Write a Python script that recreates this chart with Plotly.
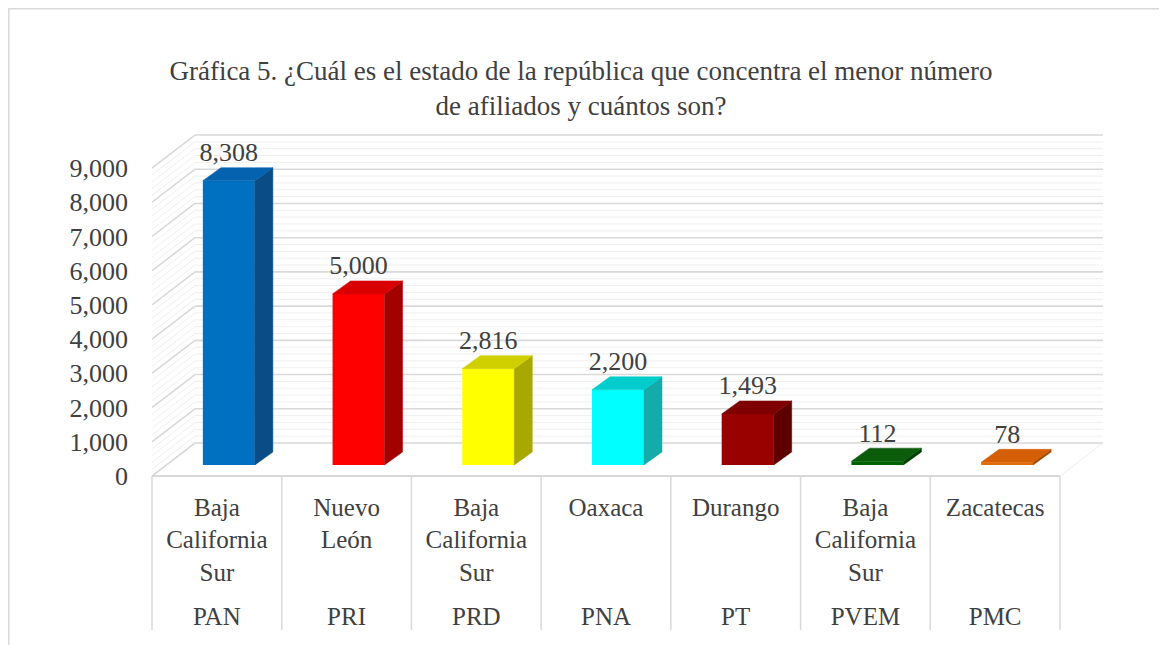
import plotly.graph_objects as go

# ---------------- data ----------------
parties = ["PAN", "PRI", "PRD", "PNA", "PT", "PVEM", "PMC"]
states = ["Baja<br>California<br>Sur", "Nuevo<br>León", "Baja<br>California<br>Sur",
          "Oaxaca", "Durango", "Baja<br>California<br>Sur", "Zacatecas"]
values = [8308, 5000, 2816, 2200, 1493, 112, 78]
y_ticks = [0, 1000, 2000, 3000, 4000, 5000, 6000, 7000, 8000, 9000]

front_colors = ["#0070C0", "#FF0000", "#FFFF00", "#00FFFF", "#990000", "#006100", "#E26B0A"]
top_colors = ["#0562AE", "#D80000", "#D0D000", "#00CCCC", "#7E0000", "#0B5C0B", "#D45F06"]
side_colors = ["#0A4C86", "#A30000", "#A8A800", "#15ABAB", "#5E0000", "#003F00", "#A34A05"]

W, H = 1167, 645
OFF = 8  # page body margin of the html page
FONT = "Liberation Serif"
TXT = "#404040"
GRID = "#D9D9D9"
MINOR = "#EFEFEF"

n = len(parties)
# geometry in page pixels of the reference
X_LEFT, X_RIGHT_CAT = 152, 1060
U = (X_RIGHT_CAT - X_LEFT) / n
Y0 = 476
K = 34.22 / 1000

def fx(p):  # page px -> paper fraction (x)
    return (p - OFF) / W

def fy(p):  # page px -> paper fraction (y)
    return (H - (p - OFF)) / H

XD = (152, 1130)
YD = (110, 500)
x_range = [-0.5, -0.5 + (XD[1] - XD[0]) / U]
y_range = [(Y0 - YD[1]) / K, (Y0 - YD[0]) / K]

WX, WY = 43 / U, 33 / K
BX, BY = 12 / U, 11 / K
DX, DY = 18 / U, 13 / K
BW = 52 / U
LBL = 13 / K

fig = go.Figure()

fig.add_trace(go.Bar(
    x=[i + BX for i in range(n)], y=values, base=BY, width=BW,
    marker=dict(color=front_colors, line=dict(width=0)),
    showlegend=False, hoverinfo="skip"))

for i, v in enumerate(values):
    xl, xr = i + BX - BW / 2, i + BX + BW / 2
    yb, yt = BY, BY + v
    fig.add_trace(go.Scatter(
        x=[xr, xr + DX, xr + DX, xr, xr], y=[yb, yb + DY, yt + DY, yt, yb],
        fill="toself", fillcolor=side_colors[i], mode="lines",
        line=dict(width=0.5, color=side_colors[i]), showlegend=False, hoverinfo="skip"))
    fig.add_trace(go.Scatter(
        x=[xl, xl + DX, xr + DX, xr, xl], y=[yt, yt + DY, yt + DY, yt, yt],
        fill="toself", fillcolor=top_colors[i], mode="lines",
        line=dict(width=0.5, color=top_colors[i]), showlegend=False, hoverinfo="skip"))

fig.add_trace(go.Scatter(
    x=[i + BX for i in range(n)],
    y=[v + BY + DY + LBL for v in values],
    text=[f"{v:,}" for v in values], mode="text", textposition="middle center",
    textfont=dict(family=FONT, size=26, color=TXT),
    showlegend=False, hoverinfo="skip", cliponaxis=False))

# carriers for the two category label rows
for ax in ("x2", "x3"):
    fig.add_trace(go.Scatter(
        x=list(range(n)), y=[0] * n, xaxis=ax, yaxis="y",
        mode="markers", marker=dict(size=1, opacity=0), showlegend=False, hoverinfo="skip"))

shapes = []
for v in range(0, 9001, 200):
    major = v % 1000 == 0
    col = GRID if major else MINOR
    w = 1.6 if major else 1
    shapes.append(dict(type="line", xref="x", yref="y", layer="below",
                       x0=-0.5 + WX, x1=n - 0.5 + WX, y0=v + WY, y1=v + WY,
                       line=dict(color=col, width=w)))
    shapes.append(dict(type="line", xref="x", yref="y", layer="below",
                       x0=-0.5, x1=-0.5 + WX, y0=v, y1=v + WY,
                       line=dict(color=col, width=w)))
shapes.append(dict(type="line", xref="x", yref="y", layer="below",
                   x0=n - 0.5, x1=n - 0.5 + WX, y0=0, y1=WY,
                   line=dict(color=MINOR, width=1)))
# category table dividers
for i in range(n + 1):
    shapes.append(dict(type="line", xref="paper", yref="paper",
                       x0=fx(X_LEFT + i * U), x1=fx(X_LEFT + i * U), y0=fy(Y0), y1=fy(630),
                       line=dict(color=GRID, width=1.5)))
# outer chart border
shapes.append(dict(type="rect", xref="paper", yref="paper", layer="below",
                   x0=0.8 / W, x1=fx(1160), y0=-0.1, y1=1 - 0.8 / H,
                   line=dict(color="#D9D9D9", width=1.5)))

fig.update_layout(
    width=W, height=H, margin=dict(l=0, r=0, t=0, b=0),
    paper_bgcolor="white", plot_bgcolor="rgba(0,0,0,0)",
    font=dict(family=FONT, color=TXT),
    title=dict(text="Gráfica 5. ¿Cuál es el estado de la república que concentra el menor número<br>de afiliados y cuántos son?",
               x=fx(581), xanchor="center", yref="container", y=fy(80), yanchor="top",
               font=dict(family=FONT, size=27, color=TXT)),
    xaxis=dict(domain=[fx(XD[0]), fx(XD[1])], range=x_range, showgrid=False, zeroline=False,
               showline=False, showticklabels=False, fixedrange=True),
    yaxis=dict(domain=[fy(YD[1]), fy(YD[0])], range=y_range, showgrid=False, zeroline=False,
               showline=False, tickmode="array", tickvals=y_ticks, tickformat=",",
               ticks="", ticklabelstandoff=23,
               tickfont=dict(family=FONT, size=26, color=TXT)),
    xaxis2=dict(domain=[fx(X_LEFT), fx(X_RIGHT_CAT)], range=[-0.5, n - 0.5],
                anchor="free", position=fy(Y0), showline=True, linecolor=GRID,
                linewidth=1.5, showgrid=False, zeroline=False, ticks="",
                tickmode="array", tickvals=list(range(n)), ticktext=states,
                ticklabelstandoff=9,
                tickfont=dict(family=FONT, size=25, color=TXT)),
    xaxis3=dict(domain=[fx(X_LEFT), fx(X_RIGHT_CAT)], range=[-0.5, n - 0.5],
                anchor="free", position=fy(593), showline=False, showgrid=False,
                zeroline=False, ticks="",
                tickmode="array", tickvals=list(range(n)), ticktext=parties,
                ticklabelstandoff=6,
                tickfont=dict(family=FONT, size=25, color=TXT)),
    shapes=shapes,
)

fig.write_html("out.html")
